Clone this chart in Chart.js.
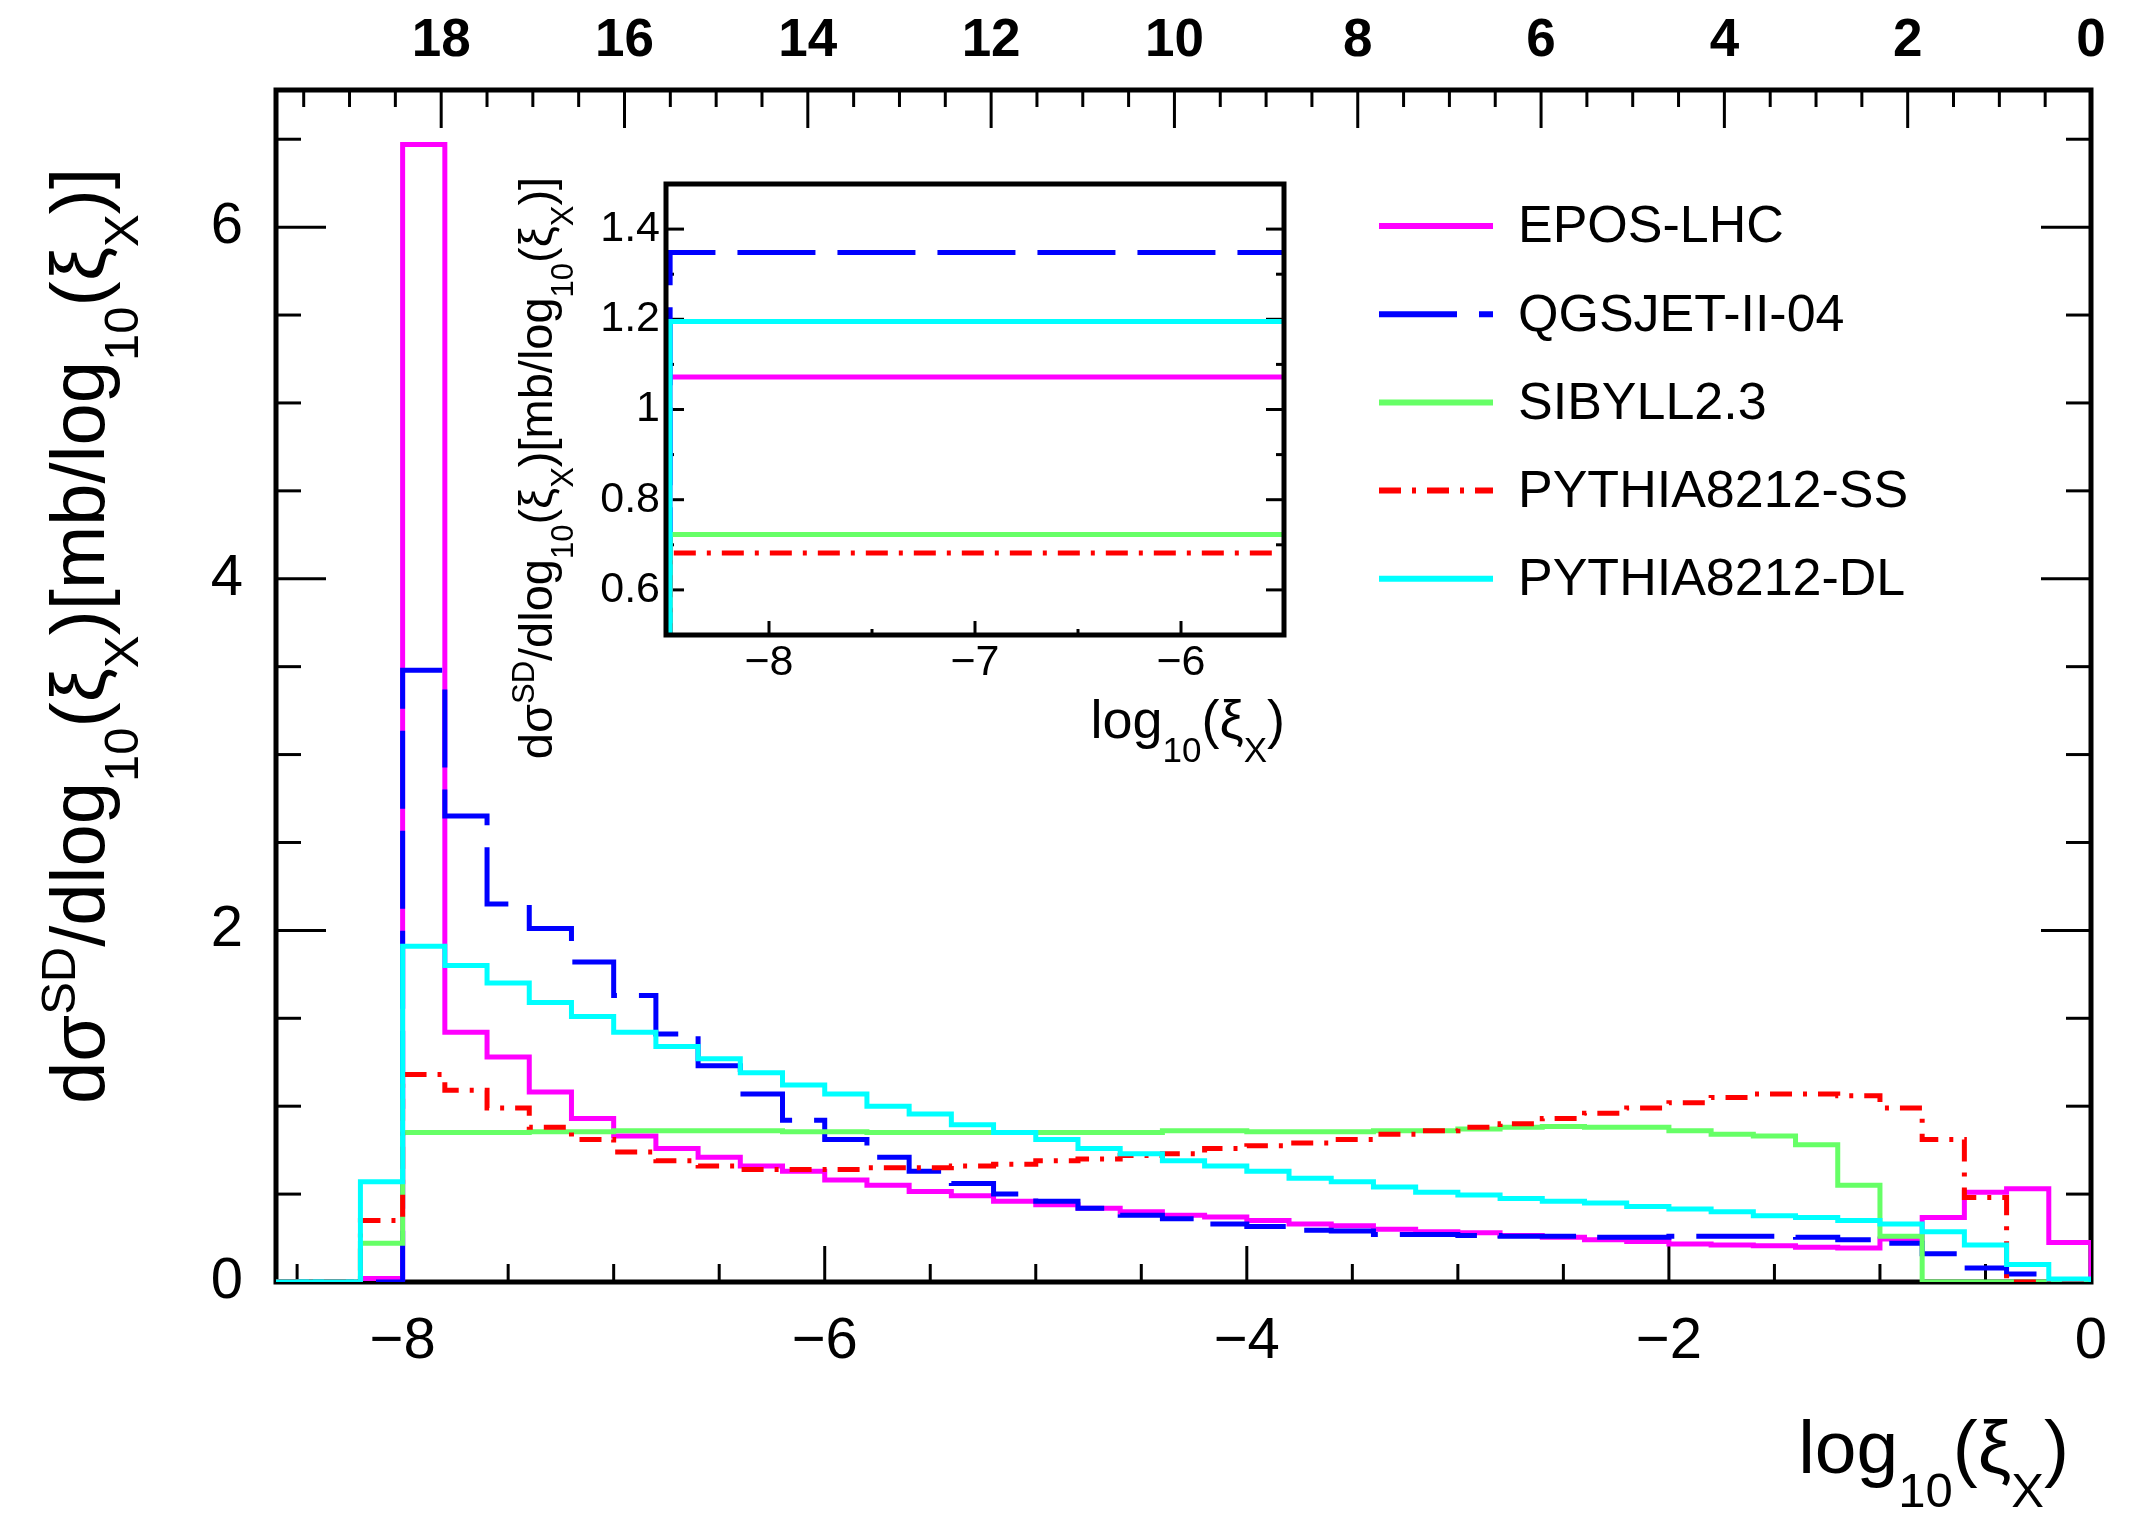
<!DOCTYPE html>
<html>
<head>
<meta charset="utf-8">
<title>Single diffraction dσ/dlog10(ξX)</title>
<script src="https://cdn.jsdelivr.net/npm/chart.js@4.4.1/dist/chart.umd.min.js"></script>
<style>
  html, body { margin: 0; padding: 0; background: #fff; overflow: hidden; }
  #wrap { position: relative; width: 2132px; height: 1513px; }
  #main { position: absolute; left: 0; top: 0; }
  #inset { position: absolute; left: 480px; top: 150px; }
</style>
</head>
<body>
<div id="wrap">
  <canvas id="main" width="2132" height="1513"></canvas>
  <canvas id="inset" width="830" height="640"></canvas>
</div>
<script>
const FONT = '"Liberation Sans", Arial, Helvetica, sans-serif';

// left edges of the log10(xi_X) bins (width 0.2)
const binEdges = [-8.6, -8.4, -8.2, -8.0, -7.8, -7.6, -7.4, -7.2, -7.0, -6.8,
  -6.6, -6.4, -6.2, -6.0, -5.8, -5.6, -5.4, -5.2, -5.0, -4.8,
  -4.6, -4.4, -4.2, -4.0, -3.8, -3.6, -3.4, -3.2, -3.0, -2.8,
  -2.6, -2.4, -2.2, -2.0, -1.8, -1.6, -1.4, -1.2, -1.0, -0.8,
  -0.6, -0.4, -0.2];

// dsigma/dlog10(xi) per bin, mb
const eposLHC = [0, 0, 0.02, 6.47, 1.42, 1.28, 1.08, 0.93, 0.83, 0.76,
  0.71, 0.66, 0.63, 0.58, 0.55, 0.515, 0.49, 0.46, 0.44, 0.42,
  0.40, 0.38, 0.37, 0.35, 0.33, 0.32, 0.30, 0.286, 0.28, 0.265,
  0.255, 0.24, 0.23, 0.216, 0.21, 0.206, 0.197, 0.193, 0.244, 0.367,
  0.51, 0.53, 0.225];
const qgsjet = [0, 0, 0, 3.48, 2.65, 2.15, 2.01, 1.82, 1.63, 1.41,
  1.23, 1.07, 0.92, 0.81, 0.71, 0.63, 0.56, 0.50, 0.46, 0.42,
  0.38, 0.36, 0.33, 0.315, 0.295, 0.29, 0.27, 0.27, 0.265, 0.26,
  0.26, 0.255, 0.255, 0.26, 0.26, 0.26, 0.254, 0.24, 0.22, 0.16,
  0.08, 0.045, 0];
const sibyll = [0, 0, 0.22, 0.85, 0.85, 0.85, 0.855, 0.855, 0.86, 0.86,
  0.86, 0.86, 0.855, 0.855, 0.85, 0.85, 0.85, 0.85, 0.85, 0.85,
  0.85, 0.86, 0.86, 0.855, 0.855, 0.855, 0.86, 0.86, 0.87, 0.88,
  0.885, 0.88, 0.88, 0.86, 0.84, 0.83, 0.78, 0.55, 0.26, 0,
  0, 0, 0];
const pythiaSS = [0, 0, 0.35, 1.18, 1.09, 0.99, 0.88, 0.81, 0.74, 0.69,
  0.66, 0.64, 0.64, 0.64, 0.65, 0.65, 0.66, 0.67, 0.69, 0.70,
  0.72, 0.73, 0.76, 0.775, 0.79, 0.81, 0.84, 0.86, 0.88, 0.90,
  0.93, 0.96, 0.99, 1.02, 1.05, 1.07, 1.07, 1.06, 0.99, 0.81,
  0.48, 0, 0];
const pythiaDL = [0, 0, 0.57, 1.91, 1.80, 1.70, 1.59, 1.51, 1.42, 1.34,
  1.27, 1.19, 1.12, 1.07, 1.00, 0.955, 0.895, 0.85, 0.81, 0.76,
  0.73, 0.69, 0.66, 0.63, 0.59, 0.57, 0.54, 0.51, 0.495, 0.475,
  0.46, 0.45, 0.43, 0.415, 0.40, 0.377, 0.367, 0.35, 0.33, 0.286,
  0.21, 0.10, 0.017];

const modelNames = ['EPOS-LHC', 'QGSJET-II-04', 'SIBYLL2.3', 'PYTHIA8212-SS', 'PYTHIA8212-DL'];
const modelColors = ['#ff00ff', '#0000ff', '#66ff66', '#ff0000', '#00ffff'];
const modelDashes = [[], [78, 22], [], [22, 11, 4, 11], []];

// inset: flat levels starting at one edge
const insetEdge = -8.48;
const insetLevels = [1.072, 1.348, 0.723, 0.682, 1.195];

// tick labels
const xTicks = [-8, -6, -4, -2, 0];
const yTicks = [0, 2, 4, 6];
const topTicks = [0, 2, 4, 6, 8, 10, 12, 14, 16, 18];
const insetXTicks = [-8, -7, -6];
const insetYTicks = [0.6, 0.8, 1, 1.2, 1.4];

const xMin = -8.6, xMax = 0, yMax = 6.78;

const yTitle = [['dσ', 0], ['SD', 2], ['/dlog', 0], ['10', 1], ['(ξ', 0], ['X', 1],
  [')[mb/log', 0], ['10', 1], ['(ξ', 0], ['X', 1], [')]', 0]];
const xTitle = [['log', 0], ['10', 1], ['(ξ', 0], ['X', 1], [')', 0]];

function drawRich(ctx, parts, x, y, size, align) {
  const small = Math.round(size * 0.65);
  let w = 0;
  const widths = parts.map(([t, m]) => {
    ctx.font = (m ? small : size) + 'px ' + FONT;
    const ww = ctx.measureText(t).width;
    w += ww;
    return ww;
  });
  let cx = align === 'right' ? x - w : align === 'center' ? x - w / 2 : x;
  ctx.textAlign = 'left';
  ctx.textBaseline = 'alphabetic';
  ctx.fillStyle = '#000';
  parts.forEach(([t, m], i) => {
    ctx.font = (m ? small : size) + 'px ' + FONT;
    const dy = m === 1 ? size * 0.45 : m === 2 ? -size * 0.38 : 0;
    ctx.fillText(t, cx, y + dy);
    cx += widths[i];
  });
}

function isMajor(v, major) {
  return Math.abs(v / major - Math.round(v / major)) < 1e-6;
}

function hTicks(ctx, scale, lo, hi, step, major, y, dir, lMaj, lMin) {
  const n = Math.round((hi - lo) / step);
  for (let i = 0; i <= n; i++) {
    const v = lo + i * step;
    const px = scale.getPixelForValue(v);
    if (px <= scale.left + 2 || px >= scale.right - 2) continue;
    ctx.beginPath();
    ctx.moveTo(px, y);
    ctx.lineTo(px, y + dir * (isMajor(v, major) ? lMaj : lMin));
    ctx.stroke();
  }
}

function vTicks(ctx, scale, lo, hi, step, major, x, dir, lMaj, lMin) {
  const n = Math.round((hi - lo) / step);
  for (let i = 0; i <= n; i++) {
    const v = lo + i * step;
    const py = scale.getPixelForValue(v);
    if (py <= scale.top + 2 || py >= scale.bottom - 2) continue;
    ctx.beginPath();
    ctx.moveTo(x, py);
    ctx.lineTo(x + dir * (isMajor(v, major) ? lMaj : lMin), py);
    ctx.stroke();
  }
}

function histData(values) {
  return binEdges.map((e, i) => ({ x: e, y: values[i] })).concat([{ x: xMax, y: 0 }]);
}

const series = [eposLHC, qgsjet, sibyll, pythiaSS, pythiaDL];

const mainFrame = {
  id: 'mainFrame',
  beforeDatasetsDraw(chart) {
    const { ctx, chartArea: a, scales } = chart;
    ctx.save();
    ctx.strokeStyle = '#000';
    ctx.lineWidth = 3;
    hTicks(ctx, scales.x, -8.5, 0, 0.5, 2, a.bottom, -1, 36, 18);
    hTicks(ctx, scales.top, 0, 19.5, 0.5, 2, a.top, 1, 38, 17);
    vTicks(ctx, scales.y, 0, 6.5, 0.5, 2, a.left, 1, 50, 25);
    vTicks(ctx, scales.y, 0, 6.5, 0.5, 2, a.right, -1, 50, 25);
    ctx.lineWidth = 5;
    ctx.strokeRect(a.left, a.top, a.right - a.left, a.bottom - a.top);
    ctx.restore();
  },
  afterDraw(chart) {
    const ctx = chart.ctx;
    ctx.save();
    ctx.translate(104, 636);
    ctx.rotate(-Math.PI / 2);
    drawRich(ctx, yTitle, 0, 0, 76, 'center');
    ctx.restore();
    ctx.save();
    drawRich(ctx, xTitle, 2069, 1473, 75, 'right');
    // legend
    chart.data.datasets.forEach((ds, i) => {
      const y = 226 + i * 88.2;
      ctx.strokeStyle = ds.borderColor;
      ctx.lineWidth = 6;
      ctx.setLineDash(ds.borderDash);
      ctx.beginPath();
      ctx.moveTo(1379, y);
      ctx.lineTo(1493, y);
      ctx.stroke();
      ctx.setLineDash([]);
      ctx.fillStyle = '#000';
      ctx.font = '52px ' + FONT;
      ctx.textAlign = 'left';
      ctx.textBaseline = 'middle';
      ctx.fillText(ds.label, 1518, y + 2);
    });
    ctx.restore();
  }
};

const fixedTicks = list => scale => { scale.ticks = list.map(v => ({ value: v })); };
const minusLabel = v => (v < 0 ? '\u2212' + Math.abs(v) : String(v));

new Chart(document.getElementById('main'), {
  type: 'line',
  data: {
    datasets: series.map((vals, i) => ({
      label: modelNames[i],
      data: histData(vals),
      borderColor: modelColors[i],
      borderDash: modelDashes[i],
      borderWidth: 5,
      borderCapStyle: 'butt',
      borderJoinStyle: 'miter',
      pointRadius: 0,
      stepped: true,
      fill: false,
      order: series.length - i
    }))
  },
  options: {
    responsive: false,
    devicePixelRatio: 1,
    animation: false,
    layout: { padding: { left: 0, right: 41, top: 0, bottom: 0 } },
    plugins: { legend: { display: false }, tooltip: { enabled: false } },
    scales: {
      x: {
        type: 'linear', position: 'bottom', min: xMin, max: xMax,
        grid: { display: false, drawTicks: false }, border: { display: false },
        afterBuildTicks: fixedTicks(xTicks),
        afterFit(s) { s.height = 231; s.paddingLeft = 0; s.paddingRight = 0; },
        ticks: { font: { family: FONT, size: 58 }, color: '#000', padding: 25,
          maxRotation: 0, autoSkip: false, callback: minusLabel }
      },
      top: {
        type: 'linear', position: 'top', min: 0, max: -xMin * Math.LN10, reverse: true,
        grid: { display: false, drawTicks: false }, border: { display: false },
        afterBuildTicks: fixedTicks(topTicks),
        afterFit(s) { s.height = 90; s.paddingLeft = 0; s.paddingRight = 0; },
        ticks: { font: { family: FONT, size: 53, weight: 'bold' }, color: '#000', padding: 17,
          maxRotation: 0, autoSkip: false }
      },
      y: {
        type: 'linear', position: 'left', min: 0, max: yMax,
        grid: { display: false, drawTicks: false }, border: { display: false },
        afterBuildTicks: fixedTicks(yTicks),
        afterFit(s) { s.width = 276; s.paddingTop = 0; s.paddingBottom = 0; },
        ticks: { font: { family: FONT, size: 58 }, color: '#000', padding: 33, autoSkip: false }
      }
    }
  },
  plugins: [mainFrame]
});

// ---- inset ----
const insetFrame = {
  id: 'insetFrame',
  beforeDatasetsDraw(chart) {
    const { ctx, chartArea: a, scales } = chart;
    ctx.save();
    ctx.strokeStyle = '#000';
    ctx.lineWidth = 3;
    hTicks(ctx, scales.x, -8.5, -5.5, 0.5, 1, a.bottom, -1, 14, 6);
    vTicks(ctx, scales.y, 0.5, 1.5, 0.1, 0.2, a.left, 1, 18, 8);
    vTicks(ctx, scales.y, 0.5, 1.5, 0.1, 0.2, a.right, -1, 18, 8);
    ctx.restore();
  },
  afterDatasetsDraw(chart) {
    const { ctx, chartArea: a } = chart;
    ctx.save();
    ctx.strokeStyle = '#000';
    ctx.lineWidth = 5;
    ctx.strokeRect(a.left, a.top, a.right - a.left, a.bottom - a.top);
    ctx.restore();
  },
  afterDraw(chart) {
    const ctx = chart.ctx;
    ctx.save();
    ctx.translate(72, 318);
    ctx.rotate(-Math.PI / 2);
    drawRich(ctx, yTitle, 0, 0, 47, 'center');
    ctx.restore();
    ctx.save();
    drawRich(ctx, xTitle, 805, 588, 54, 'right');
    ctx.restore();
  }
};

new Chart(document.getElementById('inset'), {
  type: 'line',
  data: {
    datasets: insetLevels.map((v, i) => ({
      label: modelNames[i],
      data: [{ x: xMin, y: 0 }, { x: insetEdge, y: v }, { x: -5.5, y: v }],
      borderColor: modelColors[i],
      borderDash: modelDashes[i],
      borderWidth: 5,
      borderCapStyle: 'butt',
      pointRadius: 0,
      stepped: true,
      fill: false,
      clip: 0,
      order: insetLevels.length - i
    }))
  },
  options: {
    responsive: false,
    devicePixelRatio: 1,
    animation: false,
    layout: { padding: { left: 0, right: 26, top: 34, bottom: 0 } },
    plugins: { legend: { display: false }, tooltip: { enabled: false } },
    scales: {
      x: {
        type: 'linear', position: 'bottom', min: -8.5, max: -5.5,
        grid: { display: false, drawTicks: false }, border: { display: false },
        afterBuildTicks: fixedTicks(insetXTicks),
        afterFit(s) { s.height = 155; s.paddingLeft = 0; s.paddingRight = 0; },
        ticks: { font: { family: FONT, size: 43 }, color: '#000', padding: 2,
          maxRotation: 0, autoSkip: false, callback: minusLabel }
      },
      y: {
        type: 'linear', position: 'left', min: 0.5, max: 1.5,
        grid: { display: false, drawTicks: false }, border: { display: false },
        afterBuildTicks: fixedTicks(insetYTicks),
        afterFit(s) { s.width = 186; s.paddingTop = 0; s.paddingBottom = 0; },
        ticks: { font: { family: FONT, size: 43 }, color: '#000', padding: 6, autoSkip: false,
          callback: v => String(Math.round(v * 10) / 10) }
      }
    }
  },
  plugins: [insetFrame]
});
</script>
</body>
</html>
